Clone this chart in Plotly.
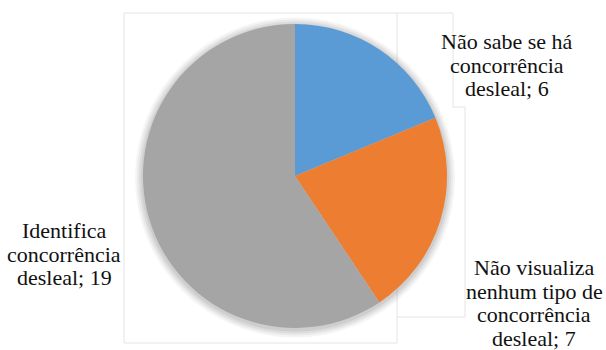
import textwrap
import plotly.graph_objects as go

# Survey answers about unfair competition
categories = [
    "Não sabe se há concorrência desleal",
    "Não visualiza nenhum tipo de concorrência desleal",
    "Identifica concorrência desleal",
]
values = [6, 7, 19]
colors = ["#5B9BD5", "#ED7D31", "#A5A5A5"]

W, H = 606, 350

# label block placement: centre x and first-line baseline (px)
label_pos = [(507, 49), (534, 275), (64, 238)]
line_step = 23.5
font_size = 22
label_font = "Liberation Serif"


def px_x(x):
    return x / W


def px_y(y):
    return 1 - y / H


cx, cy, r = 295, 176, 152

fig = go.Figure()

# soft halo around the pie
for dr, a in [(8, 0.07), (6, 0.09), (4, 0.11), (2, 0.14)]:
    rr = r + dr
    ccy = cy + 1.5
    fig.add_trace(go.Pie(
        values=[1],
        marker=dict(colors=[f"rgba(120,120,120,{a})"], line=dict(width=0)),
        domain=dict(x=[px_x(cx - rr), px_x(cx + rr)], y=[px_y(ccy + rr), px_y(ccy - rr)]),
        textinfo="none", hoverinfo="skip", showlegend=False, sort=False,
    ))

fig.add_trace(go.Pie(
    labels=categories,
    values=values,
    marker=dict(colors=colors, line=dict(width=0)),
    domain=dict(x=[px_x(cx - r), px_x(cx + r)], y=[px_y(cy + r), px_y(cy - r)]),
    sort=False,
    direction="clockwise",
    rotation=0,
    textinfo="none",
    showlegend=False,
))

# data labels, one annotation per wrapped line
for cat, val, (lx, ly) in zip(categories, values, label_pos):
    lines = textwrap.wrap(f"{cat}; {val}", width=14)
    for i, line in enumerate(lines):
        base = ly + i * line_step
        fig.add_annotation(
            x=px_x(lx), y=px_y(base - 7.4), xref="paper", yref="paper",
            text=line, showarrow=False, xanchor="center", yanchor="middle",
            borderpad=0,
            font=dict(family=label_font, size=font_size, color="#111111"),
        )

# light frame segments around the plot area
frame = [
    (124, 13, 124, 343), (124, 13, 453, 13), (453, 13, 453, 107),
    (453, 107, 465, 107), (465, 107, 465, 317), (397, 317, 465, 317),
    (397, 13, 397, 343), (124, 343, 397, 343),
]
for x0, y0, x1, y1 in frame:
    fig.add_shape(
        type="line", xref="paper", yref="paper", layer="below",
        x0=px_x(x0), y0=px_y(y0), x1=px_x(x1), y1=px_y(y1),
        line=dict(color="#e4e4e4", width=1),
    )

fig.update_layout(
    width=W, height=H,
    margin=dict(l=0, r=0, t=0, b=0),
    paper_bgcolor="white", plot_bgcolor="white",
    showlegend=False,
)

fig.write_html("out.html")
